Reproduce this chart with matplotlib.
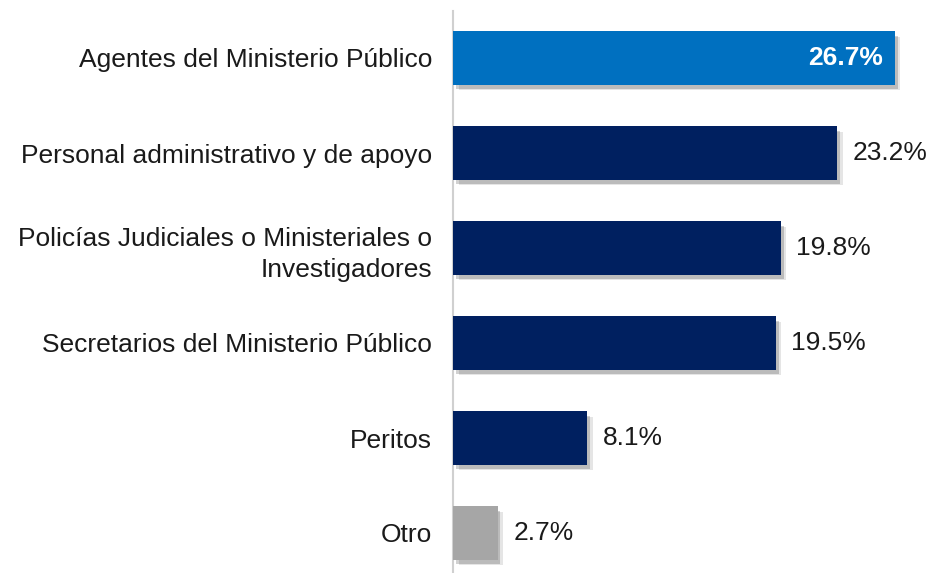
import matplotlib
matplotlib.use("Agg")
import matplotlib.pyplot as plt
import matplotlib.patheffects as pe

categories = [
    "Agentes del Ministerio Público",
    "Personal administrativo y de apoyo",
    "Policías Judiciales o Ministeriales o\nInvestigadores",
    "Secretarios del Ministerio Público",
    "Peritos",
    "Otro",
]
values = [26.7, 23.2, 19.8, 19.5, 8.1, 2.7]
colors = ["#0070C0", "#002060", "#002060", "#002060", "#002060", "#A6A6A6"]

plt.rcParams["font.family"] = ["Liberation Sans", "DejaVu Sans"]

fig = plt.figure(figsize=(9.32, 5.73), dpi=100)
ax = fig.add_axes([453 / 932, -7.5 / 573, 480 / 932, 570 / 573])

ypos = list(range(len(categories)))
shadow = [
    pe.SimplePatchShadow(offset=(4, -4), shadow_rgbFace="#000000", alpha=0.10),
    pe.SimplePatchShadow(offset=(2, -3), shadow_rgbFace="#000000", alpha=0.18),
    pe.Normal(),
]
bars = ax.barh(ypos, values, height=0.56, color=colors, zorder=3)
for b in bars:
    b.set_path_effects(shadow)

for i, v in enumerate(values):
    if i == 0:
        ax.text(v - 0.7, i, f"{v:.1f}%", ha="right", va="center",
                color="white", fontsize=19, fontweight="bold", zorder=4)
    else:
        ax.text(v + 0.95, i, f"{v:.1f}%", ha="left", va="center",
                color="#1a1a1a", fontsize=19, zorder=4)

ax.set_xlim(0, 29)
ax.set_ylim(len(categories) - 0.5, -0.5)
ax.set_yticks(ypos)
ax.set_yticklabels(categories, fontsize=19, color="#1a1a1a", linespacing=1.4)
ax.tick_params(axis="y", length=0, pad=15)
ax.set_xticks([])
for s in ["top", "right", "bottom"]:
    ax.spines[s].set_visible(False)
ax.spines["left"].set_color("#D0D0D0")
ax.spines["left"].set_linewidth(1.5)

fig.savefig("out.png", dpi=100)
